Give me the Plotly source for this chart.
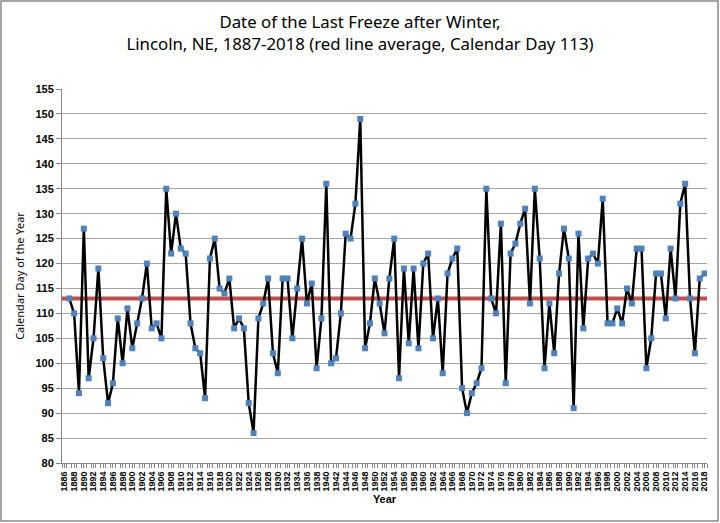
import plotly.graph_objects as go

start_year = 1887
days = [
    113, 110, 94, 127, 97, 105, 119, 101, 92, 96,      # 1887-1896
    109, 100, 111, 103, 108, 113, 120, 107, 108, 105,  # 1897-1906
    135, 122, 130, 123, 122, 108, 103, 102, 93, 121,   # 1907-1916
    125, 115, 114, 117, 107, 109, 107, 92, 86, 109,    # 1917-1926
    112, 117, 102, 98, 117, 117, 105, 115, 125, 112,   # 1927-1936
    116, 99, 109, 136, 100, 101, 110, 126, 125, 132,   # 1937-1946
    149, 103, 108, 117, 112, 106, 117, 125, 97, 119,   # 1947-1956
    104, 119, 103, 120, 122, 105, 113, 98, 118, 121,   # 1957-1966
    123, 95, 90, 94, 96, 99, 135, 113, 110, 128,       # 1967-1976
    96, 122, 124, 128, 131, 112, 135, 121, 99, 112,    # 1977-1986
    102, 118, 127, 121, 91, 126, 107, 121, 122, 120,   # 1987-1996
    133, 108, 108, 111, 108, 115, 112, 123, 123, 99,   # 1997-2006
    105, 118, 118, 109, 123, 113, 132, 136, 113, 102,  # 2007-2016
    117, 118,                                          # 2017-2018
]
years = list(range(start_year, start_year + len(days)))
average_day = 113
tick_years = list(range(1886, 2019, 2))

W, H = 720, 523
ml, mr, mt, mb = 62, 13, 89, 60
pw, ph = W - ml - mr, H - mt - mb

fig = go.Figure()

# average line across the full axis
fig.add_trace(go.Scatter(
    x=[1885.5, 2018.5], y=[average_day, average_day],
    mode='lines', line=dict(color='#C0504D', width=4),
    hoverinfo='skip', showlegend=False
))

fig.add_trace(go.Scatter(
    x=years, y=days,
    mode='lines+markers',
    line=dict(color='black', width=2.5),
    marker=dict(symbol='square', size=6, color='#4F81BD'),
    showlegend=False
))

fig.update_layout(
    width=W, height=H,
    margin=dict(l=ml, r=mr, t=mt, b=mb),
    paper_bgcolor='white', plot_bgcolor='white',
    font=dict(family='Arial', color='black'),
    title=dict(
        text='Date of the Last Freeze after Winter,<br>Lincoln, NE, 1887-2018 (red line average, Calendar Day 113)',
        x=0.5, xanchor='center', y=0.947, yanchor='top',
        font=dict(family='Noto Sans', size=16.8, color='black')
    ),
    xaxis=dict(
        range=[1885.5, 2018.5], automargin=False,
        tickmode='array', tickvals=tick_years, ticktext=[str(y) for y in tick_years],
        tickangle=-90, tickfont=dict(size=9, family='Arial', weight='bold'),
        ticks='outside', ticklen=4, tickcolor='#888888',
        minor=dict(dtick=1, tick0=1885.5, ticks='outside', ticklen=4, tickcolor='#888888'),
        showgrid=False, showline=True, linecolor='#888888', linewidth=1,
        zeroline=False,
        title=dict(text='<b>Year</b>', font=dict(size=11), standoff=4),
    ),
    yaxis=dict(
        range=[80, 155], dtick=5, tick0=80, automargin=False,
        tickfont=dict(size=11, family='Arial', weight='bold'),
        ticks='outside', ticklen=5, tickcolor='#888888',
        showgrid=True, gridcolor='#A6A6A6', gridwidth=1,
        showline=True, linecolor='#888888', linewidth=1,
        zeroline=False,
        title=dict(text='Calendar Day of the Year', font=dict(size=11, family='Noto Sans'), standoff=8),
    ),
)

# chart border around the whole picture
fig.add_shape(
    type='rect', xref='paper', yref='paper',
    x0=-(ml - 1) / pw, x1=1 + (mr - 2) / pw,
    y0=-(mb - 2) / ph, y1=1 + (mt - 1) / ph,
    line=dict(color='#888888', width=1.5), fillcolor='rgba(0,0,0,0)',
    layer='above'
)

fig.write_html("out.html", config={'displayModeBar': False},
               post_script="document.body.style.margin='0';")
